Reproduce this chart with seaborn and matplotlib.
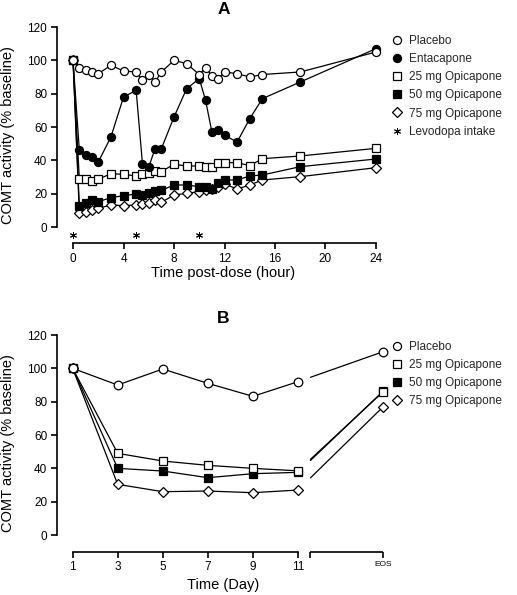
import numpy as np
import pandas as pd
import matplotlib
matplotlib.use("Agg")
import matplotlib.pyplot as plt
from matplotlib.lines import Line2D
import seaborn as sns

# Panel A: COMT activity (% baseline) over 24 h post-dose
hours = [0, 0.5, 1, 1.5, 2, 3, 4, 5, 5.5, 6, 6.5, 7, 8, 9, 10, 10.5, 11, 11.5, 12, 13, 14, 15, 18, 24]
placebo_a = [100, 95.6, 94, 93, 92, 97, 93.6, 93, 88, 91.5, 87, 93, 100, 98, 91.5, 95.6, 90.6, 89, 93, 92, 90, 91.5, 93, 105]
entacapone_a = [100, 46, 43, 42, 39, 54, 78, 82, 38, 36, 47, 47, 66, 83, 89, 76, 57, 58, 55, 51, 65, 77, 87, 107]
opi25_a = [100, 28.6, 28.6, 27.8, 28.6, 32, 31.6, 30.6, 32, 32.6, 33.6, 33.3, 37.6, 36.6, 36.6, 36, 36, 38.6, 38.6, 38.6, 36.8, 41, 42.6, 47.2]
opi50_a = [100, 12.8, 14.2, 16.2, 15.2, 17.6, 18.8, 19.8, 19.4, 20.2, 21.8, 22, 25.2, 25.2, 24.2, 24.2, 22.8, 26.2, 28.2, 28.2, 30.6, 31.2, 36.2, 40.8]
opi75_a = [100, 8.2, 9, 10.2, 11.2, 13.2, 12.8, 13.2, 13.6, 14.2, 16.2, 14.8, 19.2, 20.2, 21.2, 22, 22.8, 24.2, 25.8, 22.8, 25.2, 28.2, 30.2, 35.6]
levodopa_hours = [0, 5, 10]

# Panel B: COMT activity by study day, plus end of study (EOS)
days = [1, 3, 5, 7, 9, 11]
placebo_b = [100, 90, 99.6, 91, 83.2, 92]
opi25_b = [100, 49, 44.4, 41.8, 40, 38.5]
opi50_b = [100, 40, 38.4, 34.4, 36.8, 37.6]
opi75_b = [100, 30.4, 26, 26.4, 25.4, 27]
eos_b = {"Placebo": 110, "25 mg Opicapone": 86, "50 mg Opicapone": 86.4, "75 mg Opicapone": 77}

# marker style per group: (marker, face colour)
styles = {
    "Placebo": ("o", "white"),
    "Entacapone": ("o", "black"),
    "25 mg Opicapone": ("s", "white"),
    "50 mg Opicapone": ("s", "black"),
    "75 mg Opicapone": ("D", "white"),
}
ASTERISK = (6, 2, 0)

sns.set_theme(style="ticks")
plt.rcParams["font.family"] = ["Liberation Sans", "DejaVu Sans"]

df_a = pd.DataFrame({
    "hour": hours * 5,
    "value": placebo_a + entacapone_a + opi25_a + opi50_a + opi75_a,
    "group": np.repeat(["Placebo", "Entacapone", "25 mg Opicapone", "50 mg Opicapone", "75 mg Opicapone"], len(hours)),
})
df_b = pd.DataFrame({
    "day": days * 4,
    "value": placebo_b + opi25_b + opi50_b + opi75_b,
    "group": np.repeat(["Placebo", "25 mg Opicapone", "50 mg Opicapone", "75 mg Opicapone"], len(days)),
})

W, H = 517, 595
fig = plt.figure(figsize=(W / 100, H / 100), dpi=100)
axA = fig.add_axes([57 / W, 1 - 243 / H, 333 / W, 216 / H])
axB = fig.add_axes([57 / W, 1 - 551.7 / H, 333 / W, 216.7 / H])


def line_kws(group, ms):
    m, fc = styles[group]
    if m == "D":
        ms = ms * 0.85
    return dict(color="black", lw=0.9, marker=m, ms=ms, mfc=fc, mec="black", mew=0.9)


def style_axis(ax):
    for s in ["top", "right"]:
        ax.spines[s].set_visible(False)
    for s in ["left", "bottom"]:
        ax.spines[s].set_linewidth(1.2)
        ax.spines[s].set_color("black")
    ax.tick_params(direction="out", length=4, width=1.2, color="black",
                   labelsize=8.5, labelcolor="black", pad=3)
    ax.set_yticks(range(0, 121, 20))
    ax.spines["left"].set_bounds(0, 120)
    ax.set_ylabel("COMT activity (% baseline)", fontsize=10.5, color="black")
    ax.yaxis.set_label_coords(-0.125, 0.5)
    ax.grid(False)
    ax.set_facecolor("white")


# ---- panel A
order_a = ["75 mg Opicapone", "50 mg Opicapone", "25 mg Opicapone", "Entacapone", "Placebo"]
for g in order_a:
    sub = df_a[df_a["group"] == g]
    sns.lineplot(data=sub, x="hour", y="value", ax=axA, estimator=None, sort=False,
                 legend=False, **line_kws(g, 5.8))
sns.lineplot(x=levodopa_hours, y=[-5] * len(levodopa_hours), ax=axA, estimator=None,
             legend=False, linestyle="", marker=ASTERISK, ms=5, mec="black", mew=0.7, color="black")

axA.set_xlim(-1.27, 25.11)
axA.set_ylim(-9.6, 120)
style_axis(axA)
axA.set_xticks(range(0, 25, 4))
axA.spines["bottom"].set_bounds(0, 24)
axA.set_xlabel("Time post-dose (hour)", fontsize=10.5, color="black", labelpad=1)
axA.set_title("A", fontsize=12.5, fontweight="bold", pad=9, color="black")

handles_a = [Line2D([], [], linestyle="", marker=styles[g][0], mfc=styles[g][1], mec="black",
                    mew=0.9, ms=5.8 if styles[g][0] != "D" else 5, label=g)
             for g in ["Placebo", "Entacapone", "25 mg Opicapone", "50 mg Opicapone", "75 mg Opicapone"]]
handles_a.append(Line2D([], [], linestyle="", marker=ASTERISK, ms=5, mec="black", mew=0.7,
                        label="Levodopa intake"))
fig.legend(handles=handles_a, loc="upper left", bbox_to_anchor=(392 / W, 1 - 35 / H),
           frameon=False, fontsize=8.5, handlelength=0.8, handletextpad=0.6,
           labelspacing=0.52, borderpad=0, borderaxespad=0)

# ---- panel B
EOS_X = 14.78
BRK = 11.55
order_b = ["75 mg Opicapone", "50 mg Opicapone", "25 mg Opicapone", "Placebo"]
for g in order_b:
    sub = df_b[df_b["group"] == g]
    kws = line_kws(g, 6.2)
    sns.lineplot(data=sub, x="day", y="value", ax=axB, estimator=None, sort=False,
                 legend=False, **kws)
    # segment after the axis break, starting at the interpolated value
    y_brk = np.interp(BRK, [days[-1], EOS_X], [sub["value"].iloc[-1], eos_b[g]])
    sns.lineplot(x=[BRK, EOS_X], y=[y_brk, eos_b[g]], ax=axB, estimator=None, sort=False,
                 legend=False, markevery=[1], **kws)

axB.set_xlim(0.307, 15.08)
axB.set_ylim(-10, 120)
style_axis(axB)
axB.set_xticks(days + [EOS_X])
axB.set_xticklabels([str(d) for d in days] + ["EOS"])
axB.get_xticklabels()[-1].set_fontsize(6)
axB.set_xticks([BRK], labels=[""], minor=True)
axB.tick_params(axis="x", which="minor", direction="out", length=4, width=1.2, color="black")
axB.spines["bottom"].set_bounds(1, 11)
axB.plot([BRK, EOS_X], [-10, -10], color="black", lw=1.2, clip_on=False, solid_capstyle="butt")
axB.set_xlabel("Time (Day)", fontsize=10.5, color="black", labelpad=3)
axB.set_title("B", fontsize=12.5, fontweight="bold", pad=9, color="black")

handles_b = [Line2D([], [], linestyle="", marker=styles[g][0], mfc=styles[g][1], mec="black",
                    mew=0.9, ms=5.8 if styles[g][0] != "D" else 5, label=g)
             for g in ["Placebo", "25 mg Opicapone", "50 mg Opicapone", "75 mg Opicapone"]]
fig.legend(handles=handles_b, loc="upper left", bbox_to_anchor=(392 / W, 1 - 341 / H),
           frameon=False, fontsize=8.5, handlelength=0.8, handletextpad=0.6,
           labelspacing=0.52, borderpad=0, borderaxespad=0)

fig.savefig("out.png", dpi=100, facecolor="white")
